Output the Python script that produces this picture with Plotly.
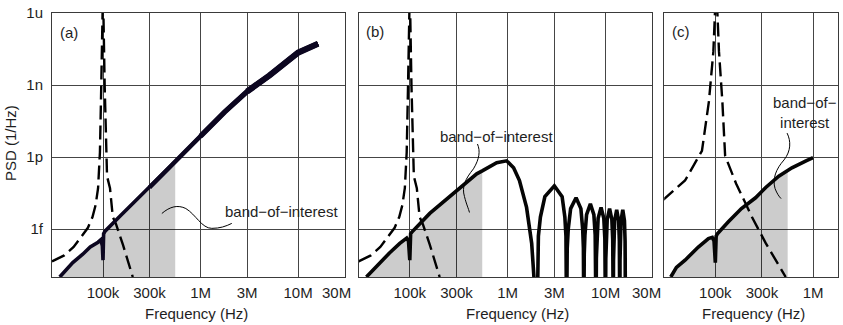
import numpy as np
import plotly.graph_objects as go

# ---------------- data (frequency in Hz, PSD as log10 of 1/Hz) ----------------
# resonance (dashed) curve used in panels (a) and (b)
RES_F = [30e3, 40e3, 50e3, 60e3, 70e3, 78e3, 84e3, 89e3, 93e3, 96e3, 100e3,
         104e3, 107e3, 110e3, 118e3, 126e3, 136e3, 160e3, 202e3]
RES_LOG = [-16.35, -16.1, -15.75, -15.3, -14.95, -14.5, -14.0, -13.3, -11.8, -9.0, -5.0,
           -9.0, -11.8, -12.8, -13.3, -14.5, -14.8, -15.65, -17.0]

# resonance (dashed) curve used in panel (c)
RES_C_F = [29e3, 49e3, 73e3, 86e3, 95.5e3, 98.8e3, 101.5e3, 105e3, 109e3, 118e3, 126e3,
           163e3, 237e3, 329e3, 525e3]
RES_C_LOG = [-13.8, -12.98, -11.74, -9.68, -7.6, -6.0, -5.0, -6.0, -7.6, -9.68, -11.95,
             -13.1, -14.5, -15.6, -17.0]

# panel (a) measured PSD
A_F = [36e3, 49e3, 62e3, 74e3, 89e3, 95e3, 98.5e3, 100e3, 101.5e3, 105e3, 149e3, 200e3,
       300e3, 450e3, 550e3, 611e3, 1e6, 1.76e6, 3e6, 5.1e6, 1e7, 1.32e7, 1.6e7]
A_LOG = [-17.0, -16.4, -16.05, -15.75, -15.55, -15.45, -15.7, -16.3, -15.2, -15.09, -14.47, -13.96,
         -13.27, -12.53, -12.18, -12.0, -11.13, -10.13, -9.27, -8.6, -7.65, -7.43, -7.28]

# panel (b) measured PSD (main lobe + side lobes)
B_F = [36e3, 49e3, 62e3, 79e3, 93e3, 97e3, 100e3, 102e3, 105e3, 160e3, 302e3, 483e3, 550e3,
       773e3, 977e3, 1.15e6, 1.32e6, 1.56e6, 1.76e6, 2.0e6,
       2.06e6, 2.16e6, 2.4e6, 3.0e6, 3.6e6, 3.84e6, 3.94e6, 4.0e6,
       4.06e6, 4.16e6, 4.4e6, 5.0e6, 5.6e6, 5.84e6, 5.94e6, 6.0e6,
       6.06e6, 6.16e6, 6.4e6, 7.0e6, 7.6e6, 7.84e6, 7.94e6, 8.0e6,
       8.06e6, 8.16e6, 8.4e6, 9.0e6, 9.6e6, 9.84e6, 9.94e6, 10.0e6,
       10.06e6, 10.16e6, 10.4e6, 11.0e6, 11.6e6, 11.84e6, 11.94e6, 12.0e6,
       12.06e6, 12.16e6, 12.4e6, 13.0e6, 13.6e6, 13.84e6, 13.94e6, 14.0e6,
       14.06e6, 14.16e6, 14.4e6, 15.0e6, 15.6e6, 15.84e6, 15.94e6, 16.0e6]
B_LOG = [-17.0, -16.41, -16.0, -15.6, -15.38, -15.5, -16.3, -15.2, -15.13, -14.35, -13.4, -12.7, -12.58,
         -12.24, -12.16, -12.45, -12.98, -14.1, -15.6, -19.0,
         -15.3, -14.5, -13.65, -13.2, -13.65, -14.5, -15.3, -19.0,
         -15.8, -15.0, -14.15, -13.7, -14.15, -15.0, -15.8, -19.0,
         -16.05, -15.25, -14.4, -13.95, -14.4, -15.25, -16.05, -19.0,
         -16.2, -15.4, -14.55, -14.1, -14.55, -15.4, -16.2, -19.0,
         -16.25, -15.45, -14.6, -14.15, -14.6, -15.45, -16.25, -19.0,
         -16.3, -15.5, -14.65, -14.2, -14.65, -15.5, -16.3, -19.0,
         -16.3, -15.5, -14.65, -14.2, -14.65, -15.5, -16.3, -19.0]

# panel (c) measured PSD
C_F = [35e3, 40e3, 49e3, 67e3, 85e3, 93e3, 97e3, 100e3, 102e3, 105e3, 136e3, 185e3, 258e3,
       328e3, 446e3, 550e3, 608e3, 848e3, 1e6]
C_LOG = [-17.0, -16.6, -16.3, -15.75, -15.4, -15.35, -15.5, -16.4, -15.3, -15.2, -14.7, -14.15, -13.7,
         -13.27, -12.8, -12.55, -12.45, -12.16, -12.03]

BAND_EDGE = 550e3          # upper edge of the shaded band-of-interest
FILL_FLOOR = 1e-19
# the trace in (a) gets noisier (drawn thicker) towards high frequency
THICK_STEPS = [(300e3, 4.4), (1e6, 5.3), (3e6, 6.2)]

X_TICKS_AB = [1e5, 3e5, 1e6, 3e6, 1e7]
X_LABELS_AB = ["100k", "300k", "1M", "3M", "10M"]
X_TICKS_C = [1e5, 3e5, 1e6]
X_LABELS_C = ["100k", "300k", "1M"]
Y_TICKS = [1e-15, 1e-12, 1e-9, 1e-6]
Y_LABELS = ["1f", "1p", "1n", "1u"]
PANEL_LABELS = ["(a)", "(b)", "(c)"]
BAND_TEXT = "band\u2212of\u2212interest"
BAND_TEXT_C = "band\u2212of\u2212<br>interest"

# ---------------- layout geometry ----------------
W, H = 843, 325
ML, MR, MT, MB = 52, 4, 11, 48
PW, PH = W - ML - MR, H - MT - MB
FONT = "Liberation Sans, Arial, sans-serif"
TXT = "#1e1e1e"
GRID = "#454545"
FRAME = "#3a3a3a"


def px(x, y):
    """pixel position in the figure -> paper coordinates"""
    return (x - ML) / PW, (H - MB - y) / PH


def dom(x0, x1):
    return [(x0 - ML) / PW, (x1 - ML) / PW]


fig = go.Figure()

panels = [
    dict(n="", f=A_F, p=A_LOG, rf=RES_F, rp=RES_LOG, color="#0c0620", thick=True),
    dict(n="2", f=B_F, p=B_LOG, rf=RES_F, rp=RES_LOG, color="#050505", thick=False),
    dict(n="3", f=C_F, p=C_LOG, rf=RES_C_F, rp=RES_C_LOG, color="#050505", thick=False),
]

for pn in panels:
    xa, ya = "x" + pn["n"], "y" + pn["n"]
    f = np.array(pn["f"])
    p = 10.0 ** np.array(pn["p"])
    m = f <= BAND_EDGE
    fx = np.concatenate([f[m], [f[m][-1], f[m][0]]])
    fy = np.concatenate([p[m], [FILL_FLOOR, FILL_FLOOR]])
    fig.add_trace(go.Scatter(x=fx, y=fy, mode="lines", fill="toself",
                             fillcolor="rgba(0,0,0,0.2)", line=dict(width=0),
                             xaxis=xa, yaxis=ya, hoverinfo="skip", showlegend=False))
    fig.add_trace(go.Scatter(x=pn["rf"], y=10.0 ** np.array(pn["rp"]), mode="lines",
                             line=dict(color="#000000", width=2.4, dash="14px,6px"),
                             xaxis=xa, yaxis=ya, showlegend=False))
    fig.add_trace(go.Scatter(x=f, y=p, mode="lines",
                             line=dict(color=pn["color"], width=3.6),
                             xaxis=xa, yaxis=ya, showlegend=False))
    if pn["thick"]:
        for f0, wdt in THICK_STEPS:
            t = f >= f0
            fig.add_trace(go.Scatter(x=f[t], y=p[t], mode="lines",
                                     line=dict(color=pn["color"], width=wdt),
                                     xaxis=xa, yaxis=ya, showlegend=False))

common_x = dict(type="log", showline=True, mirror=True, linecolor=FRAME, linewidth=1,
                showgrid=True, gridcolor=GRID, gridwidth=1, zeroline=False,
                ticks="outside", ticklen=2, tickcolor="rgba(0,0,0,0)",
                tickfont=dict(family=FONT, size=15, color=TXT))
common_y = dict(type="log", range=[-17, -6], showline=True, mirror=True, linecolor=FRAME,
                linewidth=1, showgrid=True, gridcolor=GRID, gridwidth=1, zeroline=False,
                ticks="outside", ticklen=5, tickcolor="rgba(0,0,0,0)",
                tickvals=Y_TICKS, ticktext=Y_LABELS,
                tickfont=dict(family=FONT, size=15, color=TXT))

fig.update_layout(
    width=W, height=H, margin=dict(l=ML, r=MR, t=MT, b=MB),
    paper_bgcolor="white", plot_bgcolor="white",
    font=dict(family=FONT, size=15, color=TXT),
    xaxis=dict(domain=dom(52, 345), range=[np.log10(30e3), np.log10(30e6)],
               tickvals=X_TICKS_AB, ticktext=X_LABELS_AB, anchor="y", **common_x),
    xaxis2=dict(domain=dom(359, 653), range=[np.log10(30e3), np.log10(30e6)],
                tickvals=X_TICKS_AB, ticktext=X_LABELS_AB, anchor="y2", **common_x),
    xaxis3=dict(domain=dom(665, 839), range=[np.log10(30e3), np.log10(1.8e6)],
                tickvals=X_TICKS_C, ticktext=X_LABELS_C, anchor="y3", **common_x),
    yaxis=dict(anchor="x", **common_y),
    yaxis2=dict(anchor="x2", showticklabels=False, **common_y),
    yaxis3=dict(anchor="x3", showticklabels=False, **common_y),
)

ann = []


def add_text(text, x, y, xanchor="center", size=15, angle=0):
    X, Y = px(x, y)
    ann.append(dict(text=text, x=X, y=Y, xref="paper", yref="paper", xanchor=xanchor,
                    yanchor="middle", showarrow=False, textangle=angle,
                    font=dict(family=FONT, size=size, color=TXT)))


# panel labels
add_text(PANEL_LABELS[0], 69, 31)
add_text(PANEL_LABELS[1], 375, 30)
add_text(PANEL_LABELS[2], 682, 30)
# edge tick labels (shifted inside like the original)
add_text("30M", 337, 293)
add_text("30M", 647, 293)
# axis titles
add_text("Frequency (Hz)", 197, 314)
add_text("Frequency (Hz)", 518, 314)
add_text("Frequency (Hz)", 754, 314)
add_text("PSD (1/Hz)", 10, 142, angle=-90)
# band-of-interest labels
add_text(BAND_TEXT, 223, 211, xanchor="left")
add_text(BAND_TEXT, 438, 135, xanchor="left")
add_text(BAND_TEXT_C, 806, 111)

fig.update_layout(annotations=ann)


def path(pts):
    s = ""
    for cmd, coords in pts:
        seg = " ".join("%.5f,%.5f" % px(x, y) for x, y in coords)
        s += cmd + " " + seg + " "
    return s.strip()


connectors = [
    [("M", [(162, 213)]), ("C", [(170, 206), (178, 204), (186, 208)]),
     ("C", [(196, 214), (202, 228), (212, 228)]), ("C", [(220, 228), (226, 226), (232, 223)])],
    [("M", [(478, 143)]), ("C", [(481, 150), (480, 158), (474, 168)]),
     ("C", [(466, 178), (462, 186), (465, 196)]), ("C", [(467, 204), (469, 208), (470, 212)])],
    [("M", [(788, 132)]), ("C", [(792, 140), (792, 150), (785, 159)]),
     ("C", [(777, 168), (773, 178), (776, 188)]), ("C", [(778, 193), (780, 196), (782, 198)])],
]
fig.update_layout(shapes=[dict(type="path", path=path(c), xref="paper", yref="paper",
                               line=dict(color="#000000", width=1)) for c in connectors])

fig.write_html("out.html")
